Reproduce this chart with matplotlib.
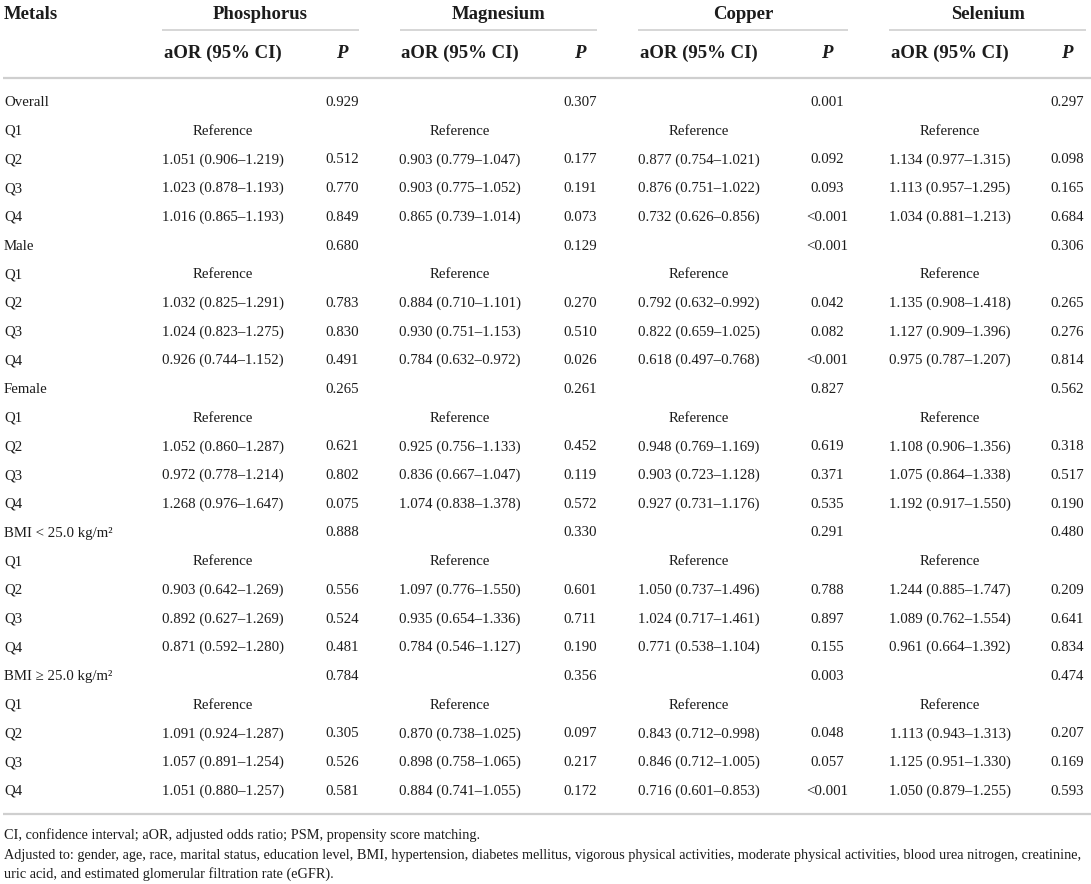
import matplotlib
matplotlib.use("Agg")
import matplotlib.pyplot as plt

plt.rcParams["font.family"] = ["Liberation Serif", "DejaVu Serif"]

# --- table content ---
METALS = ["Phosphorus", "Magnesium", "Copper", "Selenium"]

ROW_LABELS = [
    "Overall", "Q1", "Q2", "Q3", "Q4",
    "Male", "Q1", "Q2", "Q3", "Q4",
    "Female", "Q1", "Q2", "Q3", "Q4",
    "BMI < 25.0 kg/m²", "Q1", "Q2", "Q3", "Q4",
    "BMI ≥ 25.0 kg/m²", "Q1", "Q2", "Q3", "Q4",
]

PHOS_AOR = [
    "", "Reference", "1.051 (0.906–1.219)", "1.023 (0.878–1.193)", "1.016 (0.865–1.193)",
    "", "Reference", "1.032 (0.825–1.291)", "1.024 (0.823–1.275)", "0.926 (0.744–1.152)",
    "", "Reference", "1.052 (0.860–1.287)", "0.972 (0.778–1.214)", "1.268 (0.976–1.647)",
    "", "Reference", "0.903 (0.642–1.269)", "0.892 (0.627–1.269)", "0.871 (0.592–1.280)",
    "", "Reference", "1.091 (0.924–1.287)", "1.057 (0.891–1.254)", "1.051 (0.880–1.257)",
]
PHOS_P = [
    "0.929", "", "0.512", "0.770", "0.849",
    "0.680", "", "0.783", "0.830", "0.491",
    "0.265", "", "0.621", "0.802", "0.075",
    "0.888", "", "0.556", "0.524", "0.481",
    "0.784", "", "0.305", "0.526", "0.581",
]

MG_AOR = [
    "", "Reference", "0.903 (0.779–1.047)", "0.903 (0.775–1.052)", "0.865 (0.739–1.014)",
    "", "Reference", "0.884 (0.710–1.101)", "0.930 (0.751–1.153)", "0.784 (0.632–0.972)",
    "", "Reference", "0.925 (0.756–1.133)", "0.836 (0.667–1.047)", "1.074 (0.838–1.378)",
    "", "Reference", "1.097 (0.776–1.550)", "0.935 (0.654–1.336)", "0.784 (0.546–1.127)",
    "", "Reference", "0.870 (0.738–1.025)", "0.898 (0.758–1.065)", "0.884 (0.741–1.055)",
]
MG_P = [
    "0.307", "", "0.177", "0.191", "0.073",
    "0.129", "", "0.270", "0.510", "0.026",
    "0.261", "", "0.452", "0.119", "0.572",
    "0.330", "", "0.601", "0.711", "0.190",
    "0.356", "", "0.097", "0.217", "0.172",
]

CU_AOR = [
    "", "Reference", "0.877 (0.754–1.021)", "0.876 (0.751–1.022)", "0.732 (0.626–0.856)",
    "", "Reference", "0.792 (0.632–0.992)", "0.822 (0.659–1.025)", "0.618 (0.497–0.768)",
    "", "Reference", "0.948 (0.769–1.169)", "0.903 (0.723–1.128)", "0.927 (0.731–1.176)",
    "", "Reference", "1.050 (0.737–1.496)", "1.024 (0.717–1.461)", "0.771 (0.538–1.104)",
    "", "Reference", "0.843 (0.712–0.998)", "0.846 (0.712–1.005)", "0.716 (0.601–0.853)",
]
CU_P = [
    "0.001", "", "0.092", "0.093", "<0.001",
    "<0.001", "", "0.042", "0.082", "<0.001",
    "0.827", "", "0.619", "0.371", "0.535",
    "0.291", "", "0.788", "0.897", "0.155",
    "0.003", "", "0.048", "0.057", "<0.001",
]

SE_AOR = [
    "", "Reference", "1.134 (0.977–1.315)", "1.113 (0.957–1.295)", "1.034 (0.881–1.213)",
    "", "Reference", "1.135 (0.908–1.418)", "1.127 (0.909–1.396)", "0.975 (0.787–1.207)",
    "", "Reference", "1.108 (0.906–1.356)", "1.075 (0.864–1.338)", "1.192 (0.917–1.550)",
    "", "Reference", "1.244 (0.885–1.747)", "1.089 (0.762–1.554)", "0.961 (0.664–1.392)",
    "", "Reference", "1.113 (0.943–1.313)", "1.125 (0.951–1.330)", "1.050 (0.879–1.255)",
]
SE_P = [
    "0.297", "", "0.098", "0.165", "0.684",
    "0.306", "", "0.265", "0.276", "0.814",
    "0.562", "", "0.318", "0.517", "0.190",
    "0.480", "", "0.209", "0.641", "0.834",
    "0.474", "", "0.207", "0.169", "0.593",
]

FOOTNOTES = [
    "CI, confidence interval; aOR, adjusted odds ratio; PSM, propensity score matching.",
    "Adjusted to: gender, age, race, marital status, education level, BMI, hypertension, "
    "diabetes mellitus, vigorous physical activities, moderate physical activities, blood urea nitrogen, creatinine,",
    "uric acid, and estimated glomerular filtration rate (eGFR).",
]

AOR_COLS = [PHOS_AOR, MG_AOR, CU_AOR, SE_AOR]
P_COLS = [PHOS_P, MG_P, CU_P, SE_P]

# --- layout (pixel space) ---
W, H = 1091, 884
GROUP_SPANS = [(162, 359), (400, 597), (638, 848), (889, 1086)]
AOR_X = [223, 460, 699, 950]
P_X = [342, 580, 827, 1067]
ROW0, ROW_STEP = 106, 28.7

TEXT = "#1c1c1c"
RULE = "#cfcfcf"
BODY_FS = 10.7
HEAD_FS = 13.5
NOTE_FS = 10.3

fig = plt.figure(figsize=(W / 100, H / 100), dpi=100)
ax = fig.add_axes([0, 0, 1, 1])
ax.set_xlim(0, W)
ax.set_ylim(H, 0)
ax.axis("off")

# header
ax.text(4, 19, "Metals", fontsize=HEAD_FS, fontweight="bold", color=TEXT, va="baseline")
for name, (x0, x1), xa, xp in zip(METALS, GROUP_SPANS, AOR_X, P_X):
    ax.text((x0 + x1) / 2, 19, name, fontsize=HEAD_FS, fontweight="bold",
            color=TEXT, ha="center", va="baseline")
    ax.plot([x0, x1], [30, 30], color=RULE, lw=1.2, solid_capstyle="butt")
    ax.text(xa, 58, "aOR (95% CI)", fontsize=HEAD_FS, fontweight="bold",
            color=TEXT, ha="center", va="baseline")
    ax.text(xp, 58, "P", fontsize=HEAD_FS, fontweight="bold", fontstyle="italic",
            color=TEXT, ha="center", va="baseline")

ax.plot([3, W], [78, 78], color=RULE, lw=1.6, solid_capstyle="butt")

# body
for i, label in enumerate(ROW_LABELS):
    y = ROW0 + i * ROW_STEP
    ax.text(4, y, label, fontsize=BODY_FS, color=TEXT, va="baseline")
    for aor, pv, xa, xp in zip(AOR_COLS, P_COLS, AOR_X, P_X):
        if aor[i]:
            ax.text(xa, y, aor[i], fontsize=BODY_FS, color=TEXT, ha="center", va="baseline")
        if pv[i]:
            ax.text(xp, y, pv[i], fontsize=BODY_FS, color=TEXT, ha="center", va="baseline")

ax.plot([3, W], [814, 814], color=RULE, lw=1.6, solid_capstyle="butt")

# footnotes
for k, note in enumerate(FOOTNOTES):
    ax.text(4, 839 + k * 19.5, note, fontsize=NOTE_FS, color=TEXT, va="baseline")

fig.savefig("out.png", dpi=100)
